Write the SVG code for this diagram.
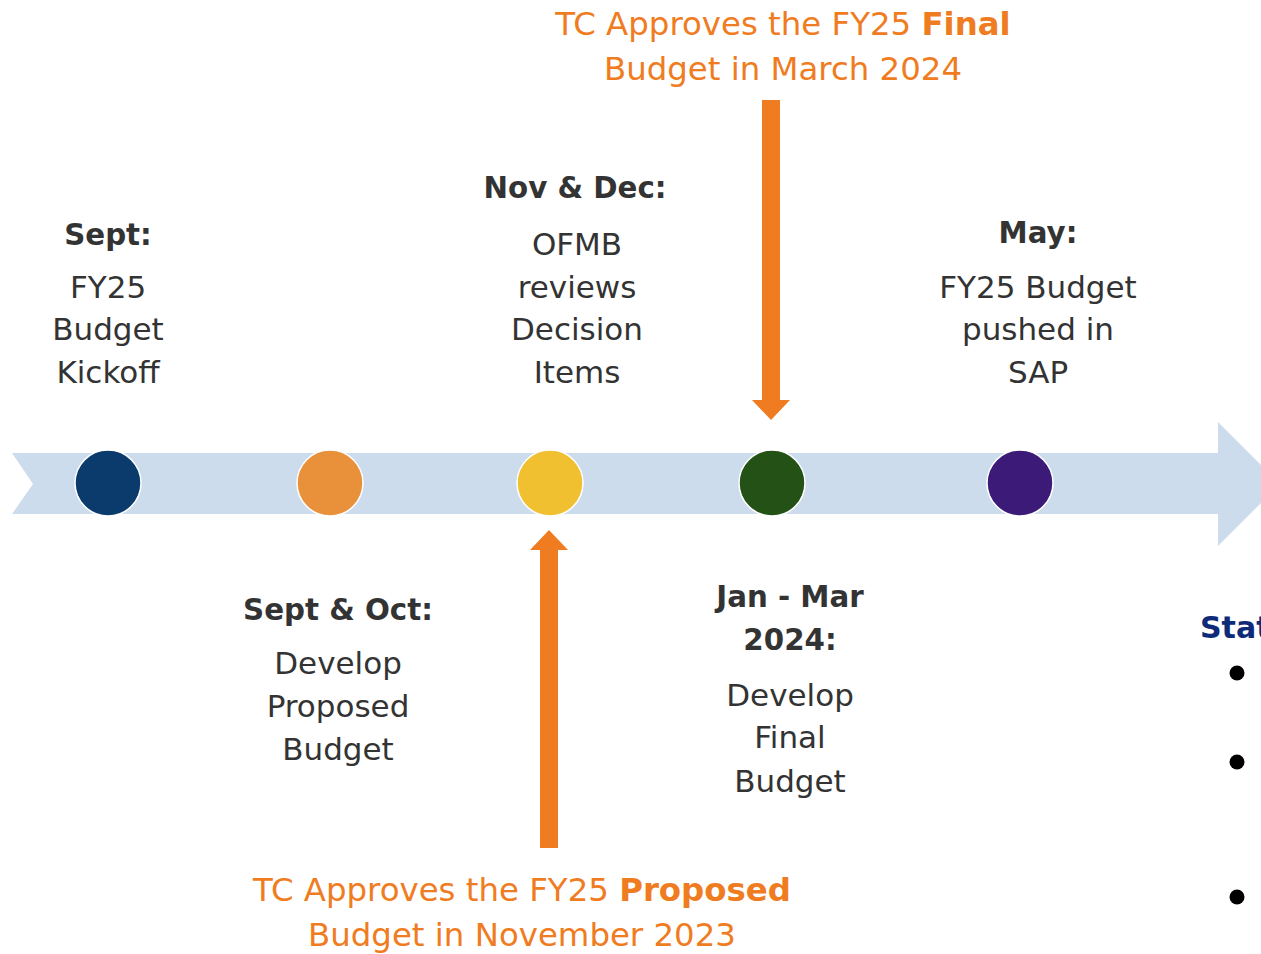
<svg xmlns="http://www.w3.org/2000/svg" width="1261" height="954" viewBox="0 0 1261 954">
<style>
.o{font-family:"DejaVu Sans","Liberation Sans",sans-serif;font-size:32.4px;fill:#f07c22;text-anchor:middle}
.h{font-family:"DejaVu Sans","Liberation Sans",sans-serif;font-size:29.3px;font-weight:bold;fill:#333;text-anchor:middle}
.t{font-family:"DejaVu Sans","Liberation Sans",sans-serif;font-size:31px;fill:#333;text-anchor:middle}
.arr{fill:#f07c22}
</style>
<rect width="1261" height="954" fill="#fff"/>
<g id="timeline">
<polygon points="12,453 1218,453 1218,422 1280,484 1218,546 1218,514 12,514 33,484" fill="#cddcec"/>
</g>
<g id="connectors">
<polygon class="arr" points="762,100 780,100 780,400 790,400 771,420 752,400 762,400"/>
<polygon class="arr" points="540,848 558,848 558,550 568,550 549,530 530,550 540,550"/>
</g>
<g id="n1"><circle cx="108" cy="483" r="33" fill="#0b3b6d" stroke="#fff" stroke-width="1.5"/>
<text class="h" x="108" y="245">Sept:</text>
<text class="t" x="108" y="298">FY25</text><text class="t" x="108" y="340">Budget</text><text class="t" x="108" y="383">Kickoff</text></g>
<g id="n2"><circle cx="330" cy="483" r="33" fill="#e8913a" stroke="#fff" stroke-width="1.5"/>
<text class="h" x="338" y="620">Sept &amp; Oct:</text>
<text class="t" x="338" y="674">Develop</text><text class="t" x="338" y="717">Proposed</text><text class="t" x="338" y="760">Budget</text></g>
<g id="n3"><circle cx="550" cy="483" r="33" fill="#f0c030" stroke="#fff" stroke-width="1.5"/>
<text class="h" x="575" y="198">Nov &amp; Dec:</text>
<text class="t" x="577" y="255">OFMB</text><text class="t" x="577" y="298">reviews</text><text class="t" x="577" y="340">Decision</text><text class="t" x="577" y="383">Items</text></g>
<g id="n4"><circle cx="772" cy="483" r="33" fill="#245216" stroke="#fff" stroke-width="1.5"/>
<text class="h" x="790" y="607">Jan - Mar</text><text class="h" x="790" y="650">2024:</text>
<text class="t" x="790" y="706">Develop</text><text class="t" x="790" y="748">Final</text><text class="t" x="790" y="792">Budget</text></g>
<g id="n5"><circle cx="1020" cy="483" r="33" fill="#3b1a78" stroke="#fff" stroke-width="1.5"/>
<text class="h" x="1038" y="243">May:</text>
<text class="t" x="1038" y="298">FY25 Budget</text><text class="t" x="1038" y="340">pushed in</text><text class="t" x="1038" y="383">SAP</text></g>
<g id="label-final">
<text class="o" x="783" y="35">TC Approves the FY25 <tspan font-weight="bold">Final</tspan></text>
<text class="o" x="783" y="80">Budget in March 2024</text>
</g>
<g id="label-proposed">
<text class="o" x="522" y="901">TC Approves the FY25 <tspan font-weight="bold">Proposed</tspan></text>
<text class="o" x="522" y="946">Budget in November 2023</text>
</g>
<g id="status">
<text x="1200" y="638" font-family="DejaVu Sans,sans-serif" font-size="30" font-weight="bold" fill="#0e2a78">Stat</text>
<circle cx="1237" cy="673" r="7.5" fill="#000"/>
<circle cx="1237" cy="762" r="7.5" fill="#000"/>
<circle cx="1237" cy="897" r="7.5" fill="#000"/>
</g>
</svg>
